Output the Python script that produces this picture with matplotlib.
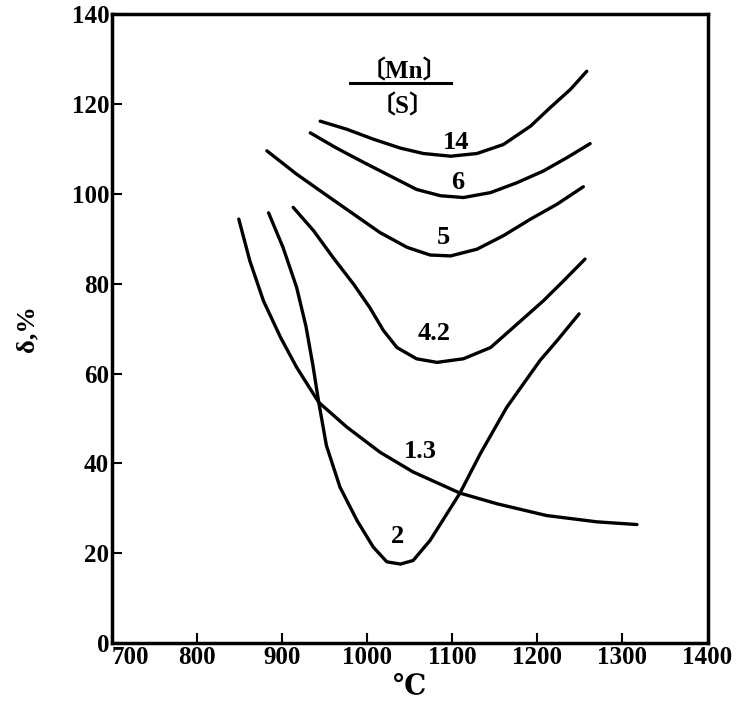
import matplotlib
matplotlib.use("Agg")
import matplotlib.pyplot as plt

# Data (temperature in °C, delta in %)
t_14 = [944.7, 976, 1007, 1039, 1066, 1098, 1129, 1160, 1192, 1215, 1239, 1258]
d_14 = [116.2, 114.4, 112.2, 110.2, 109.0, 108.4, 109.0, 111.0, 115.1, 119.2, 123.3, 127.3]

t_6 = [933, 964, 996, 1027, 1058, 1086, 1113, 1145, 1176, 1207, 1235, 1262]
d_6 = [113.6, 110.2, 107.0, 104.0, 101.0, 99.6, 99.2, 100.3, 102.5, 105.1, 108.1, 111.2]

t_5 = [882, 917, 953, 984, 1015, 1047, 1074, 1098, 1129, 1160, 1192, 1223, 1254]
d_5 = [109.6, 104.4, 99.6, 95.5, 91.4, 88.1, 86.4, 86.2, 87.7, 90.7, 94.4, 97.7, 101.6]

t_42 = [913, 937, 960, 984, 1003, 1019, 1035, 1058, 1082, 1113, 1145, 1176, 1207, 1231, 1256]
d_42 = [97.0, 91.8, 85.8, 79.9, 74.7, 69.6, 65.8, 63.3, 62.5, 63.3, 65.8, 71.0, 76.2, 80.7, 85.5]

t_13 = [849, 862, 878, 898, 917, 943, 976, 1015, 1054, 1109, 1153, 1211, 1270, 1317]
d_13 = [94.4, 85.1, 76.2, 68.1, 61.4, 53.6, 48.1, 42.5, 38.1, 33.4, 31.0, 28.4, 27.0, 26.4]

t_2 = [884, 901, 917, 928, 936, 943, 952, 968, 988, 1007, 1023, 1039, 1054, 1074,
       1109, 1133, 1164, 1203, 1223, 1249]
d_2 = [95.8, 88.1, 79.2, 70.5, 62.0, 53.6, 44.0, 34.7, 27.3, 21.4, 18.1, 17.6, 18.4, 22.9,
       33.4, 42.2, 52.5, 62.9, 67.3, 73.3]

series = [(t_14, d_14), (t_6, d_6), (t_5, d_5), (t_42, d_42), (t_13, d_13), (t_2, d_2)]

labels = ["14", "6", "5", "4.2", "1.3", "2"]
label_x = [1104, 1106, 1089, 1079, 1062, 1036]
label_y = [111.4, 102.6, 90.4, 68.9, 42.6, 23.8]

x_ticks = [700, 800, 900, 1000, 1100, 1200, 1300, 1400]
y_ticks = [0, 20, 40, 60, 80, 100, 120, 140]

fig = plt.figure(figsize=(7.37, 7.13), dpi=100)
ax = fig.add_axes([0.152, 0.098, 0.808, 0.882])

for t, d in series:
    ax.plot(t, d, color="black", lw=2.4, solid_capstyle="round", solid_joinstyle="round")

serif = ["Liberation Serif", "DejaVu Serif"]
for lab, lx, ly in zip(labels, label_x, label_y):
    ax.text(lx, ly, lab, ha="center", va="center", fontsize=19, fontweight="bold", family=serif)

# Mn/S fraction annotation
ax.text(1044, 127.4, "〔Mn〕", ha="center", va="center", fontsize=18, fontweight="bold",
        family=["Liberation Serif", "Noto Sans CJK SC"])
ax.plot([980, 1098], [124.8, 124.8], color="black", lw=2.2)
ax.text(1042, 119.6, "〔S〕", ha="center", va="center", fontsize=18, fontweight="bold",
        family=["Liberation Serif", "Noto Sans CJK SC"])

ax.set_xlim(700, 1400)
ax.set_ylim(0, 140)
ax.set_xticks(x_ticks)
ax.set_yticks(y_ticks)
ax.set_xticklabels([str(v) for v in x_ticks], fontsize=18, fontweight="bold", family=serif)
ax.set_yticklabels([str(v) for v in y_ticks], fontsize=18, fontweight="bold", family=serif)
ax.tick_params(direction="in", length=7, width=1.5, pad=2)
xl = ax.get_xticklabels()
xl[0].set_horizontalalignment("left")
for s in ax.spines.values():
    s.set_linewidth(2.5)

ax.set_xlabel("℃", fontsize=20, fontweight="bold", family=["DejaVu Serif", "Noto Sans CJK SC"], labelpad=2)
ax.set_ylabel("δ,%", fontsize=19, fontweight="bold", family=serif, labelpad=24)

fig.savefig("out.png", dpi=100)
